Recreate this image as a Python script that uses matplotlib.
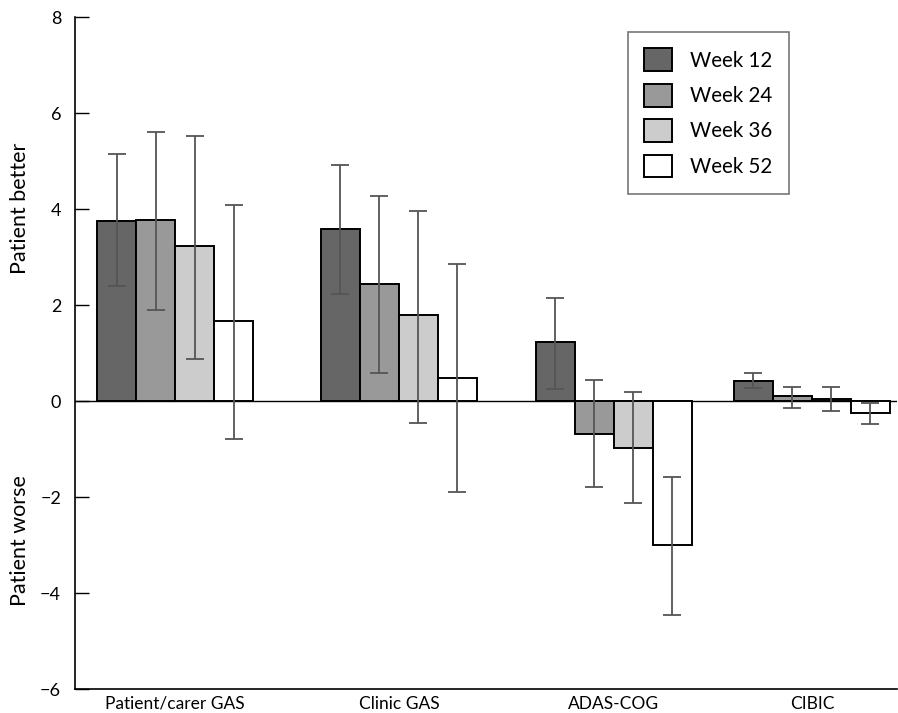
import matplotlib
matplotlib.use("Agg")
import matplotlib.pyplot as plt
import numpy as np

# ---- data ----
categories = ["Patient/carer GAS", "Clinic GAS", "ADAS-COG", "CIBIC"]
series_names = ["Week 12", "Week 24", "Week 36", "Week 52"]
means = {
    "Week 12": [3.74, 3.58, 1.23, 0.42],
    "Week 24": [3.77, 2.43, -0.68, 0.10],
    "Week 36": [3.22, 1.79, -0.98, 0.05],
    "Week 52": [1.67, 0.48, -3.00, -0.26],
}
upper = {
    "Week 12": [5.15, 4.92, 2.15, 0.59],
    "Week 24": [5.60, 4.28, 0.44, 0.29],
    "Week 36": [5.53, 3.96, 0.18, 0.29],
    "Week 52": [4.08, 2.86, -1.58, -0.04],
}
lower = {
    "Week 12": [2.40, 2.22, 0.24, 0.27],
    "Week 24": [1.90, 0.58, -1.80, -0.15],
    "Week 36": [0.88, -0.45, -2.13, -0.20],
    "Week 52": [-0.80, -1.90, -4.45, -0.47],
}
yticks = [-6, -4, -2, 0, 2, 4, 6, 8]

# ---- layout ----
group_centers = [175, 399, 614, 812]
bar_w = 39
colors = ["#666666", "#999999", "#cccccc", "#ffffff"]

plt.rcParams['font.family'] = ['Lato', 'DejaVu Sans']

fig = plt.figure(figsize=(8.98, 7.13), dpi=100)
ax = fig.add_axes([75/898, 1-689/713, (897-75)/898, (689-17)/713])

for i, name in enumerate(series_names):
    x = np.array(group_centers) + (i - 1.5) * bar_w
    m = np.array(means[name])
    lo = m - np.array(lower[name])
    hi = np.array(upper[name]) - m
    ax.bar(x, m, width=bar_w, color=colors[i], edgecolor="black",
           linewidth=1.4, label=name, zorder=2)
    ax.errorbar(x, m, yerr=[lo, hi], fmt="none", ecolor="#555555",
                elinewidth=1.3, capsize=6.5, capthick=1.3, zorder=3)

ax.axhline(0, color="black", linewidth=1.0, zorder=1)

ax.set_xlim(75, 897)
ax.set_ylim(-6, 8)
ax.set_yticks(yticks)
ax.set_yticklabels([str(t).replace("-", "\u2212") for t in yticks], fontsize=13)
ax.set_xticks(group_centers)
ax.set_xticklabels(categories, fontsize=12.5)
ax.tick_params(axis="x", length=0, pad=5)
ax.tick_params(axis="y", direction="in", length=10, width=1, pad=10)
for s in ["top", "right"]:
    ax.spines[s].set_visible(False)
ax.spines["left"].set_linewidth(1.2)
ax.spines["bottom"].set_linewidth(1.2)

fig.text(20/898, 1-208/713, "Patient better", rotation=90, ha="center",
         va="center", fontsize=15.5)
fig.text(20/898, 1-541/713, "Patient worse", rotation=90, ha="center",
         va="center", fontsize=15.5)

leg = ax.legend(loc="upper left", bbox_to_anchor=(628/898, 1-32/713),
                bbox_transform=fig.transFigure, fontsize=14.8,
                handlelength=1.32, handleheight=1.32, labelspacing=0.62,
                handletextpad=0.9, borderpad=0.8, borderaxespad=0,
                fancybox=False, frameon=True)
leg.get_frame().set_edgecolor("#555555")
leg.get_frame().set_linewidth(1.2)

fig.savefig("out.png", dpi=100)
